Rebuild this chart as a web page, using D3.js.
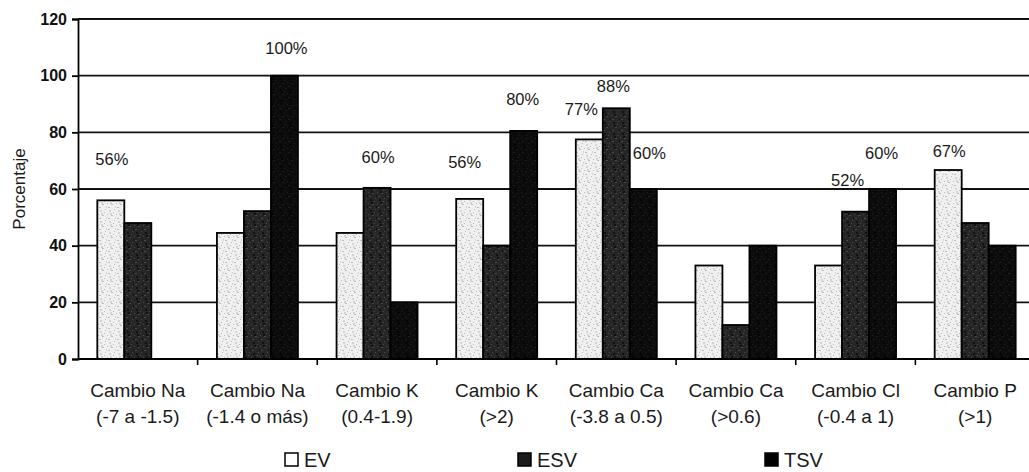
<!DOCTYPE html>
<html><head><meta charset="utf-8">
<script src="https://cdn.jsdelivr.net/npm/d3@7"></script>
<style>body{margin:0;background:#fff;}svg{display:block;font-family:Arial,"Liberation Sans",sans-serif;}</style>
</head><body><svg id="c" width="1029" height="472"></svg>
<script>
const categories = [
  ["Cambio Na","(-7 a -1.5)"],
  ["Cambio Na","(-1.4 o más)"],
  ["Cambio K","(0.4-1.9)"],
  ["Cambio K","(>2)"],
  ["Cambio Ca","(-3.8 a 0.5)"],
  ["Cambio Ca","(>0.6)"],
  ["Cambio Cl","(-0.4 a 1)"],
  ["Cambio P","(>1)"]
];
const seriesNames = ["EV","ESV","TSV"];
const EV  = [56, 44.5, 44.5, 56.5, 77.5, 33, 33, 66.7];
const ESV = [48, 52.2, 60.4, 40, 88.5, 12, 52, 48];
const TSV = [0, 100, 20, 80.5, 60, 40, 60, 40];
const yTicks = [0,20,40,60,80,100,120];
// annotation labels: category index, series index, text, value-height where label sits
const annCat    = [0, 1, 2, 3, 3, 4, 4, 4, 6, 6, 7];
const annSeries = [0, 2, 1, 0, 2, 0, 1, 2, 1, 2, 0];
const annText   = ["56%","100%","60%","56%","80%","77%","88%","60%","52%","60%","67%"];
const annLevel  = [70.6, 109.8, 71.3, 69.5, 91.8, 88.2, 96.4, 72.7, 63.2, 72.7, 73.4];

(function(){
const svg = d3.select("#c");
const mLeft = 78, mTop = 19, mBottom = 359, mRight = 1035;
const y = d3.scaleLinear().domain([0,120]).range([mBottom, mTop]);
const x0 = d3.scaleBand().domain(d3.range(categories.length)).range([mLeft, mRight]).padding(0);
const x1 = d3.scaleBand().domain(seriesNames).range([0, x0.bandwidth()]).paddingInner(0).paddingOuter(0.715);
// horizontal nudges of the annotation labels (layout only)
const annNudge = [1, 2, 1, -5, -1, -8, -3, 6, -8, -1, 1];

// patterns
const defs = svg.append("defs");
function speckle(id, base, dot, dot2) {
  const p = defs.append("pattern").attr("id", id).attr("patternUnits","userSpaceOnUse").attr("width",9).attr("height",11);
  p.append("rect").attr("width",9).attr("height",11).attr("fill",base);
  [[1,1],[5,3],[3,6],[7,8],[0,9],[6,0],[2,4],[8,5]].forEach((d,i)=>{
    p.append("rect").attr("x",d[0]).attr("y",d[1]).attr("width",i%2?1:2).attr("height",i%3?1:2).attr("fill", i%3?dot:dot2);
  });
}
speckle("pEV", "#f0f0f0", "#bdbdbd", "#d4d4d4");
speckle("pESV", "#262626", "#4a4a4a", "#111111");
speckle("pTSV", "#0c0c0c", "#1e1e1e", "#050505");
const fills = {EV:"url(#pEV)", ESV:"url(#pESV)", TSV:"url(#pTSV)"};

// gridlines
svg.append("g").selectAll("line").data(yTicks.filter(d=>d>0)).join("line")
  .attr("x1", mLeft).attr("x2", 1029).attr("y1", d=>y(d)).attr("y2", d=>y(d))
  .attr("stroke","#111").attr("stroke-width",1.8);

// bars
const vals = [EV, ESV, TSV];
const barData = [];
categories.forEach((c,i)=>seriesNames.forEach((s,j)=>{ if (vals[j][i] > 0) barData.push({i, s, v: vals[j][i]}); }));
svg.append("g").selectAll("rect").data(barData).join("rect")
  .attr("x", d=>x0(d.i)+x1(d.s))
  .attr("y", d=>y(d.v))
  .attr("width", x1.bandwidth())
  .attr("height", d=>mBottom - y(d.v))
  .attr("fill", d=>fills[d.s])
  .attr("stroke", "#000").attr("stroke-width", 1.8);

// y axis
const yAxis = d3.axisLeft(y).tickValues(yTicks).tickSize(6).tickPadding(5);
const gy = svg.append("g").attr("transform",`translate(${mLeft},0)`).call(yAxis);
gy.select(".domain").attr("stroke","#000").attr("stroke-width",1.8);
gy.selectAll(".tick line").attr("stroke","#000").attr("stroke-width",1.8);
gy.selectAll(".tick text").attr("font-size",16).attr("font-weight","bold").attr("fill","#111").attr("font-family","Arial, 'Liberation Sans', sans-serif");

// x axis
svg.append("line").attr("x1",mLeft).attr("x2",1029).attr("y1",mBottom).attr("y2",mBottom).attr("stroke","#000").attr("stroke-width",1.8);
svg.append("g").selectAll("line").data(d3.range(1, categories.length)).join("line")
  .attr("x1", d=>x0(d)).attr("x2", d=>x0(d)).attr("y1", mBottom).attr("y2", mBottom+6)
  .attr("stroke","#000").attr("stroke-width",1.6);
const xl = svg.append("g").selectAll("text").data(categories).join("text")
  .attr("x",(d,i)=>x0(i)+x0.bandwidth()/2).attr("y",397)
  .attr("text-anchor","middle").attr("font-size",19).attr("fill","#1a1a1a");
xl.append("tspan").attr("x",(d,i)=>x0(i)+x0.bandwidth()/2).text(d=>d[0]);
xl.append("tspan").attr("x",(d,i)=>x0(i)+x0.bandwidth()/2).attr("dy",26).text(d=>d[1]);

// y title
svg.append("text").attr("transform","translate(25,189) rotate(-90)").attr("text-anchor","middle")
  .attr("font-size",17).attr("fill","#1a1a1a").text("Porcentaje");

// annotations
svg.append("g").selectAll("text").data(annText).join("text")
  .attr("x",(d,k)=>x0(annCat[k])+x1(seriesNames[annSeries[k]])+x1.bandwidth()/2+annNudge[k])
  .attr("y",(d,k)=>y(annLevel[k])+6)
  .attr("text-anchor","middle").attr("font-size",16.5).attr("fill","#1a1a1a").text(d=>d);

// legend
const legX = [285, 518, 765];
const lg = svg.append("g").selectAll("g").data(seriesNames).join("g")
  .attr("transform",(d,i)=>`translate(${legX[i]},453)`);
lg.append("rect").attr("width",13).attr("height",13).attr("y",0)
  .attr("fill",d=>d==="EV"?"#fff":(d==="ESV"?"#1c1c1c":"#000")).attr("stroke","#000").attr("stroke-width",1.5);
lg.append("text").attr("x",19).attr("y",14).attr("font-size",20).attr("fill","#1a1a1a").text(d=>d);
})();
</script></body></html>
